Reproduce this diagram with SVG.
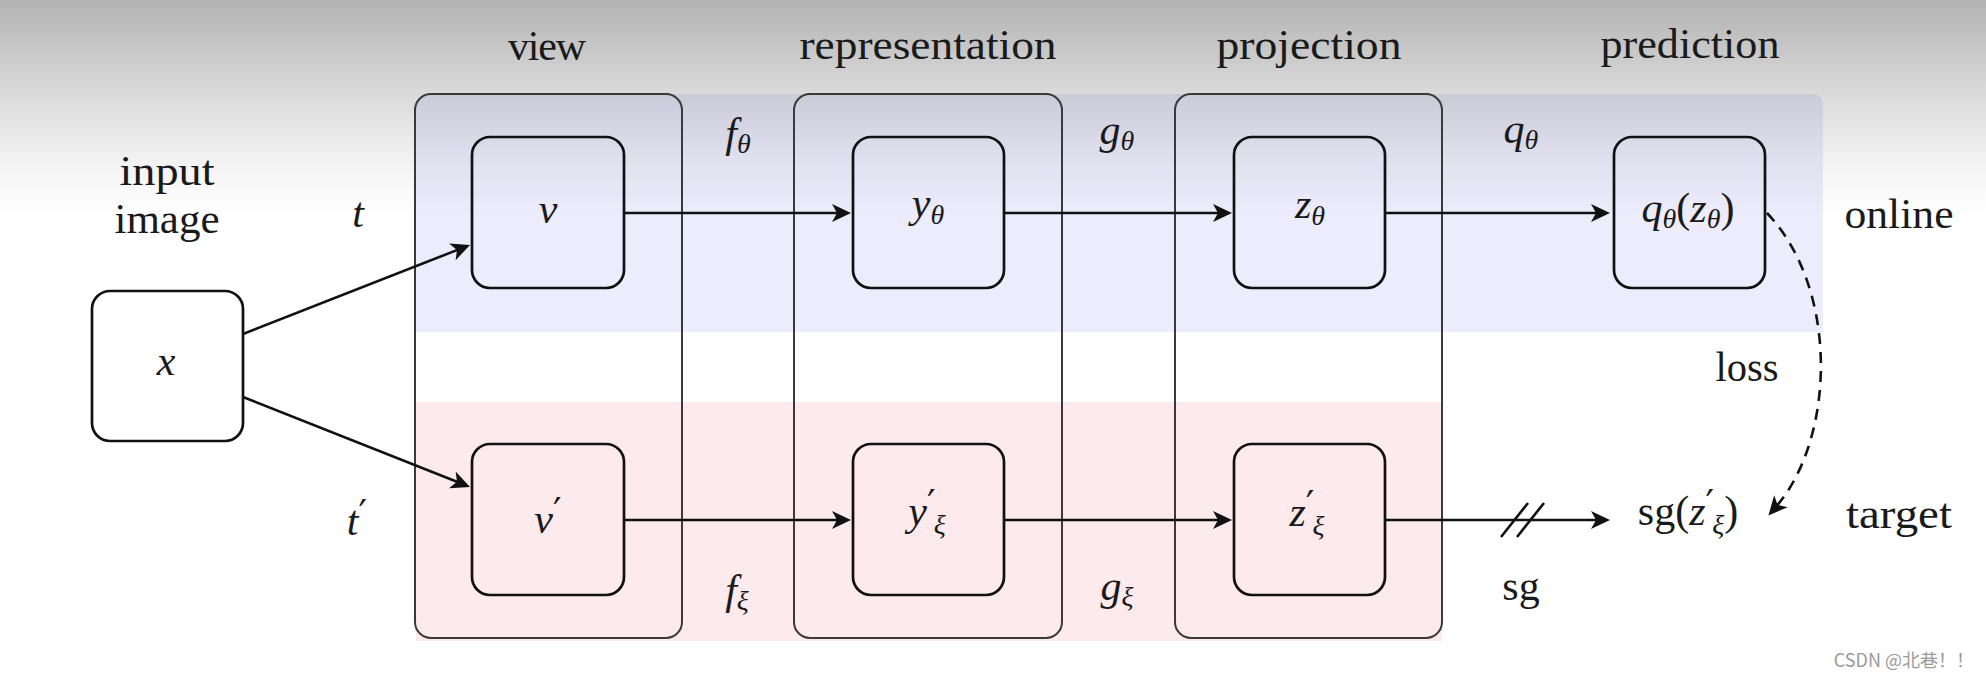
<svg xmlns="http://www.w3.org/2000/svg" width="1986" height="679" viewBox="0 0 1986 679">
  <style>
    .lbl { font-family: "Liberation Serif", "Times New Roman", serif; font-size: 42px; fill: #1a1a1a; text-anchor: middle; }
    .math { font-family: "Liberation Serif", "Times New Roman", serif; font-style: italic; font-size: 42px; fill: #1a1a1a; text-anchor: middle; }
    .sub { font-size: 28px; }
    .pr { font-family: "DejaVu Sans", sans-serif; font-size: 38px; font-style: normal; }
    .up { font-style: normal; }
    .col { fill: none; stroke: #3a3a3a; stroke-width: 2; }
    .box { fill: none; stroke: #111; stroke-width: 2.7; }
    .arr { fill: none; stroke: #111; stroke-width: 2.6; marker-end: url(#stealth); }
    .dash { fill: none; stroke: #111; stroke-width: 2.6; stroke-dasharray: 11 8; marker-end: url(#stealth); }
    .tick { fill: none; stroke: #111; stroke-width: 2.6; }
    .wm { font-family: "Noto Sans CJK SC", "Noto Sans", sans-serif; font-size: 18px; fill: #9a9a9a; text-anchor: end; }
  </style>
  <defs>
    <linearGradient id="shade" x1="0" y1="0" x2="0" y2="1">
      <stop offset="0" stop-color="#000" stop-opacity="0.30"/>
      <stop offset="0.45" stop-color="#000" stop-opacity="0.14"/>
      <stop offset="0.75" stop-color="#000" stop-opacity="0.05"/>
      <stop offset="1" stop-color="#000" stop-opacity="0"/>
    </linearGradient>
    <marker id="stealth" viewBox="-10 -10 22 20" refX="0" refY="0" markerWidth="22" markerHeight="20" markerUnits="userSpaceOnUse" orient="auto">
      <path d="M10,0 L-9,-9 L-4,0 L-9,9 Z" fill="#111"/>
    </marker>
  </defs>

  <!-- background and bands -->
  <rect x="0" y="0" width="1986" height="679" fill="#ffffff"/>
  <path id="band-online" d="M415,332 V109 Q415,94 430,94 H1812 Q1823,94 1823,105 V332 Z" fill="#ececfc"/>
  <rect id="band-target" x="416" y="402" width="1026" height="239" fill="#fdeaec"/>
  <rect x="0" y="0" width="1986" height="215" fill="url(#shade)"/>

  <!-- column labels -->
  <text class="lbl" x="547" y="60" textLength="78">view</text>
  <text class="lbl" x="928" y="59" textLength="257" lengthAdjust="spacingAndGlyphs">representation</text>
  <text class="lbl" x="1309" y="59" textLength="185" lengthAdjust="spacingAndGlyphs">projection</text>
  <text class="lbl" x="1690" y="58" textLength="179" lengthAdjust="spacingAndGlyphs">prediction</text>

  <!-- columns -->
  <g id="col-view"><rect class="col" x="415" y="94" width="267" height="544" rx="16"/></g>
  <g id="col-representation"><rect class="col" x="794" y="94" width="268" height="544" rx="16"/></g>
  <g id="col-projection"><rect class="col" x="1175" y="94" width="267" height="544" rx="16"/></g>

  <!-- side labels -->
  <text class="lbl" x="167" y="185" textLength="95" lengthAdjust="spacingAndGlyphs">input</text>
  <text class="lbl" x="167" y="233" textLength="105" lengthAdjust="spacingAndGlyphs">image</text>
  <text class="lbl" x="1899" y="228" textLength="109" lengthAdjust="spacingAndGlyphs">online</text>
  <text class="lbl" x="1899" y="528" textLength="106" lengthAdjust="spacingAndGlyphs">target</text>
  <text class="lbl" x="1747" y="381" textLength="63" lengthAdjust="spacingAndGlyphs">loss</text>
  <text class="lbl" x="1521" y="600">sg</text>

  <!-- nodes -->
  <g id="node-x">
    <rect class="box" x="92" y="291" width="151" height="150" rx="18"/>
    <text class="math" x="166" y="375">x</text>
  </g>
  <g id="node-v">
    <rect class="box" x="472" y="137" width="152" height="151" rx="18"/>
    <text class="math" x="548" y="223">v</text>
  </g>
  <g id="node-y">
    <rect class="box" x="853" y="137" width="151" height="151" rx="18"/>
    <text class="math" x="928" y="217">y<tspan class="sub" dy="7">θ</tspan></text>
  </g>
  <g id="node-z">
    <rect class="box" x="1234" y="137" width="151" height="151" rx="18"/>
    <text class="math" x="1310" y="218">z<tspan class="sub" dy="7">θ</tspan></text>
  </g>
  <g id="node-q">
    <rect class="box" x="1614" y="137" width="151" height="151" rx="18"/>
    <text class="math" x="1688" y="222">q<tspan class="sub" dy="6">θ</tspan><tspan class="up" dy="-6">(</tspan>z<tspan class="sub" dy="6">θ</tspan><tspan class="up" dy="-6">)</tspan></text>
  </g>
  <g id="node-v2">
    <rect class="box" x="472" y="444" width="152" height="151" rx="18"/>
    <text class="math" x="548" y="533">v<tspan class="pr" dy="-9">′</tspan></text>
  </g>
  <g id="node-y2">
    <rect class="box" x="853" y="444" width="151" height="151" rx="18"/>
    <text class="math" x="927" y="525">y<tspan class="pr" dy="-9">′</tspan><tspan class="sub" dx="-2" dy="18">ξ</tspan></text>
  </g>
  <g id="node-z2">
    <rect class="box" x="1234" y="444" width="151" height="151" rx="18"/>
    <text class="math" x="1307" y="526">z<tspan class="pr" dy="-9">′</tspan><tspan class="sub" dx="-2" dy="18">ξ</tspan></text>
  </g>
  <g id="node-sg">
    <text class="math" x="1688" y="525"><tspan class="up">sg(</tspan>z<tspan class="pr" dy="-9">′</tspan><tspan class="sub" dx="-2" dy="18">ξ</tspan><tspan class="up" dy="-9">)</tspan></text>
  </g>

  <!-- edge labels -->
  <text class="math" x="738" y="147">f<tspan class="sub" dy="6">θ</tspan></text>
  <text class="math" x="1117" y="144">g<tspan class="sub" dy="6">θ</tspan></text>
  <text class="math" x="1521" y="143">q<tspan class="sub" dy="6">θ</tspan></text>
  <text class="math" x="737" y="604">f<tspan class="sub" dy="6">ξ</tspan></text>
  <text class="math" x="1117" y="600">g<tspan class="sub" dy="6">ξ</tspan></text>
  <text class="math" x="358" y="227">t</text>
  <text class="math" x="357" y="535">t<tspan class="pr" dy="-9">′</tspan></text>

  <!-- connectors -->
  <g id="connectors">
    <line class="arr" x1="243" y1="334" x2="460.7" y2="248.6"/>
    <line class="arr" x1="243" y1="397" x2="460.7" y2="483.3"/>
    <line class="arr" x1="624" y1="213" x2="841" y2="213"/>
    <line class="arr" x1="1004" y1="213" x2="1222" y2="213"/>
    <line class="arr" x1="1385" y1="213" x2="1600" y2="213"/>
    <line class="arr" x1="624" y1="520" x2="841" y2="520"/>
    <line class="arr" x1="1004" y1="520" x2="1222" y2="520"/>
    <line class="arr" x1="1385" y1="520" x2="1600" y2="520"/>
    <line class="tick" x1="1501" y1="537" x2="1528" y2="503"/>
    <line class="tick" x1="1517" y1="537" x2="1544" y2="503"/>
    <path class="dash" d="M1767,213 C1840,290 1835,440 1775,508"/>
  </g>

  <text class="wm" x="1974" y="667">CSDN @北巷！！</text>
</svg>
